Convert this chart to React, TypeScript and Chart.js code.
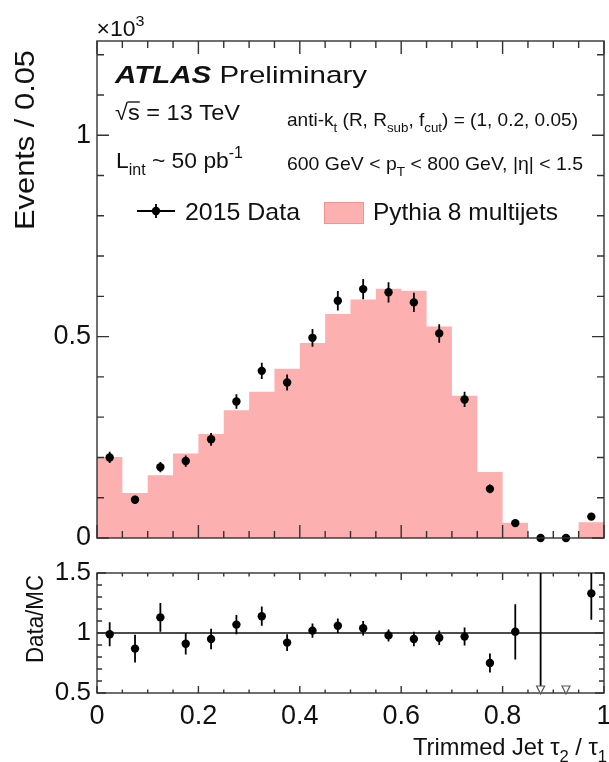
import React, { useEffect, useRef } from 'react';
import { Chart, registerables } from 'chart.js';

Chart.register(...registerables);

// ---------------- data ----------------
const binCenters = [0.025, 0.075, 0.125, 0.175, 0.225, 0.275, 0.325, 0.375, 0.425, 0.475, 0.525, 0.575, 0.625, 0.675, 0.725, 0.775, 0.825, 0.875, 0.925, 0.975];
const binEdges = [0, 0.05, 0.1, 0.15, 0.2, 0.25, 0.3, 0.35, 0.4, 0.45, 0.5, 0.55, 0.6, 0.65, 0.7, 0.75, 0.8, 0.85, 0.9, 0.95, 1.0];
// Pythia 8 multijets (x10^3 events / 0.05)
const mcValues = [0.201, 0.112, 0.156, 0.210, 0.258, 0.317, 0.363, 0.420, 0.484, 0.556, 0.592, 0.619, 0.614, 0.525, 0.353, 0.164, 0.038, 0.0005, 0, 0.039];
// 2015 Data
const dataValues = [0.200, 0.095, 0.176, 0.191, 0.245, 0.339, 0.415, 0.386, 0.497, 0.589, 0.618, 0.610, 0.585, 0.508, 0.344, 0.122, 0.037, 0, 0, 0.053];
const dataErrors = [0.014, 0.010, 0.013, 0.014, 0.016, 0.018, 0.020, 0.020, 0.022, 0.024, 0.025, 0.025, 0.024, 0.023, 0.019, 0.011, 0.006, 0, 0, 0.007];
// Data/MC ratio
const ratioValues = [0.99, 0.87, 1.13, 0.91, 0.95, 1.07, 1.14, 0.92, 1.02, 1.06, 1.04, 0.98, 0.95, 0.96, 0.97, 0.75, 1.01, 0, 0, 1.33];
const ratioErrors = [0.10, 0.115, 0.12, 0.09, 0.085, 0.08, 0.08, 0.07, 0.06, 0.06, 0.06, 0.05, 0.06, 0.06, 0.075, 0.08, 0.23, 2.0, 0, 0.22];
const ratioReference = 1;

// tick labels
const xTickLabels = [0, 0.2, 0.4, 0.6, 0.8, 1];
const xMinorStep = 0.05;
const mainYTickLabels = [0, 0.5, 1];
const mainYMinorStep = 0.1;
const ratioYTickLabels = [0.5, 1, 1.5];
const ratioYMinorStep = 0.1;

const X_MIN = 0, X_MAX = 1;
const MAIN_Y_MAX = 1.234;
const RATIO_Y_MIN = 0.5, RATIO_Y_MAX = 1.5;

// ---------------- style ----------------
const FONT = "'Liberation Sans', Arial, Helvetica, sans-serif";
const PINK = '#fcb0b0';
const FRAME = '#333333';
const TEXT = '#111111';

type Seg = { t: string; k?: number; dy?: number; style?: string; over?: boolean };
const SUB = { k: 0.7, dy: 0.3 };
const SUP = { k: 0.7, dy: -0.45 };

function drawRich(ctx: CanvasRenderingContext2D, segs: Seg[], x: number, y: number, size: number, targetW?: number, rot?: number) {
  ctx.save();
  ctx.translate(x, y);
  if (rot) ctx.rotate(rot);
  const fontOf = (s: Seg) => `${s.style ? s.style + ' ' : ''}${size * (s.k || 1)}px ${FONT}`;
  let total = 0;
  const widths = segs.map((s) => {
    ctx.font = fontOf(s);
    const w = ctx.measureText(s.t).width;
    total += w;
    return w;
  });
  const sx = targetW ? targetW / total : 1;
  ctx.scale(sx, 1);
  ctx.fillStyle = TEXT;
  ctx.strokeStyle = TEXT;
  ctx.textBaseline = 'alphabetic';
  ctx.textAlign = 'left';
  let cx = 0;
  segs.forEach((s, i) => {
    ctx.font = fontOf(s);
    ctx.fillText(s.t, cx, (s.dy || 0) * size);
    if (s.over) {
      ctx.lineWidth = size * 0.06;
      ctx.beginPath();
      ctx.moveTo(cx - size * 0.02, -size * 0.80);
      ctx.lineTo(cx + widths[i], -size * 0.80);
      ctx.stroke();
    }
    cx += widths[i];
  });
  ctx.restore();
}

type TickCfg = { xMaj: number; xMin: number; yMaj: number; yMin: number; yMajor: number[]; yStep: number; lw: number };

function framePlugin(id: string, cfg: TickCfg) {
  return {
    id,
    afterDatasetsDraw(chart: any) {
      const { ctx, chartArea: a, scales } = chart;
      const xs = scales.x, ys = scales.y;
      ctx.save();
      ctx.strokeStyle = FRAME;
      ctx.lineWidth = cfg.lw;
      ctx.beginPath();
      const nX = Math.round((X_MAX - X_MIN) / xMinorStep);
      for (let i = 0; i <= nX; i++) {
        const v = X_MIN + i * xMinorStep;
        const major = xTickLabels.some((t) => Math.abs(t - v) < 1e-6);
        const len = major ? cfg.xMaj : cfg.xMin;
        const px = xs.getPixelForValue(v);
        ctx.moveTo(px, a.bottom);
        ctx.lineTo(px, a.bottom - len);
        ctx.moveTo(px, a.top);
        ctx.lineTo(px, a.top + len);
      }
      const yMinV = ys.min, yMaxV = ys.max;
      const nY = Math.floor((yMaxV - yMinV) / cfg.yStep + 1e-6);
      for (let i = 0; i <= nY; i++) {
        const v = yMinV + i * cfg.yStep;
        const major = cfg.yMajor.some((t) => Math.abs(t - v) < 1e-6);
        const len = major ? cfg.yMaj : cfg.yMin;
        const py = ys.getPixelForValue(v);
        ctx.moveTo(a.left, py);
        ctx.lineTo(a.left + len, py);
        ctx.moveTo(a.right, py);
        ctx.lineTo(a.right - len, py);
      }
      ctx.stroke();
      ctx.strokeRect(a.left, a.top, a.right - a.left, a.bottom - a.top);
      ctx.restore();
    },
  };
}

function errorBarPlugin(id: string, values: number[], errors: number[], clip: boolean, yFloor?: number) {
  return {
    id,
    afterDatasetsDraw(chart: any) {
      const { ctx, chartArea: a, scales } = chart;
      ctx.save();
      if (clip) {
        ctx.beginPath();
        ctx.rect(a.left, a.top, a.right - a.left, a.bottom - a.top);
        ctx.clip();
      }
      ctx.strokeStyle = '#000';
      ctx.lineWidth = 1.8;
      ctx.beginPath();
      binCenters.forEach((xv, i) => {
        const e = errors[i];
        if (!e) return;
        const px = scales.x.getPixelForValue(xv);
        const y1 = scales.y.getPixelForValue(values[i] - e);
        const y2 = scales.y.getPixelForValue(values[i] + e);
        ctx.moveTo(px, y1);
        ctx.lineTo(px, y2);
      });
      ctx.stroke();
      ctx.restore();
      if (yFloor !== undefined) {
        ctx.save();
        ctx.strokeStyle = '#555';
        ctx.fillStyle = '#fff';
        ctx.lineWidth = 1.2;
        binCenters.forEach((xv, i) => {
          if (values[i] >= yFloor) return;
          const px = scales.x.getPixelForValue(xv);
          const pb = scales.y.getPixelForValue(yFloor);
          ctx.beginPath();
          ctx.moveTo(px - 4, pb - 7);
          ctx.lineTo(px + 4, pb - 7);
          ctx.lineTo(px, pb + 1);
          ctx.closePath();
          ctx.fill();
          ctx.stroke();
        });
        ctx.restore();
      }
    },
  };
}

const mainTextPlugin = {
  id: 'mainText',
  afterDraw(chart: any) {
    const ctx: CanvasRenderingContext2D = chart.ctx;
    drawRich(ctx, [{ t: '×10' }, { t: '3', ...SUP }], 96.5, 36, 22, 48);
    drawRich(ctx, [{ t: 'ATLAS', style: 'italic bold' }, { t: ' Preliminary' }], 115, 83, 24.5, 252);
    drawRich(ctx, [{ t: '√' }, { t: 's', over: true }, { t: ' = 13 TeV' }], 115, 120, 22.5, 125);
    drawRich(ctx, [{ t: 'L' }, { t: 'int', ...SUB }, { t: ' ~ 50 pb' }, { t: '-1', ...SUP }], 116, 168, 22.5, 127);
    drawRich(ctx, [{ t: 'anti-k' }, { t: 't', ...SUB }, { t: ' (R, R' }, { t: 'sub', ...SUB }, { t: ', f' }, { t: 'cut', ...SUB }, { t: ') = (1, 0.2, 0.05)' }], 287, 126, 18.5, 291);
    drawRich(ctx, [{ t: '600 GeV < p' }, { t: 'T', ...SUB }, { t: ' < 800 GeV, |η| < 1.5' }], 287, 170, 18.5, 296);
    // legend
    ctx.save();
    ctx.strokeStyle = '#000';
    ctx.lineWidth = 1.8;
    ctx.beginPath();
    ctx.moveTo(137, 211);
    ctx.lineTo(175, 211);
    ctx.moveTo(156, 204);
    ctx.lineTo(156, 218);
    ctx.stroke();
    ctx.fillStyle = '#000';
    ctx.beginPath();
    ctx.arc(156, 211, 4.2, 0, Math.PI * 2);
    ctx.fill();
    ctx.fillStyle = PINK;
    ctx.fillRect(324, 202, 40, 22);
    ctx.strokeStyle = 'rgba(235,130,130,0.6)';
    ctx.lineWidth = 1;
    ctx.strokeRect(324.5, 202.5, 39, 21);
    ctx.restore();
    drawRich(ctx, [{ t: '2015 Data' }], 185, 220, 24, 115);
    drawRich(ctx, [{ t: 'Pythia 8 multijets' }], 373, 220, 24, 185);
    drawRich(ctx, [{ t: 'Events / 0.05' }], 33.5, 230, 28, 180, -Math.PI / 2);
  },
};

const ratioTextPlugin = {
  id: 'ratioText',
  afterDraw(chart: any) {
    const ctx: CanvasRenderingContext2D = chart.ctx;
    drawRich(ctx, [{ t: 'Trimmed Jet τ' }, { t: '2', ...SUB }, { t: ' / τ' }, { t: '1', ...SUB }], 413, 215, 24, 194);
    drawRich(ctx, [{ t: 'Data/MC' }], 43, 123, 23, 88, -Math.PI / 2);
  },
};

const tickFont = { family: FONT, size: 27 };

export default function App() {
  const mainRef = useRef<HTMLCanvasElement | null>(null);
  const ratioRef = useRef<HTMLCanvasElement | null>(null);

  useEffect(() => {
    const mainChart = new Chart(mainRef.current as HTMLCanvasElement, {
      type: 'scatter',
      data: {
        datasets: [
          {
            type: 'line',
            label: 'Pythia 8 multijets',
            data: binEdges.map((e, i) => ({ x: e, y: mcValues[Math.min(i, mcValues.length - 1)] })),
            stepped: 'before',
            fill: 'origin',
            backgroundColor: PINK,
            borderColor: 'rgba(0,0,0,0)',
            borderWidth: 0,
            pointRadius: 0,
            order: 2,
          } as any,
          {
            type: 'scatter',
            label: '2015 Data',
            data: binCenters.map((x, i) => ({ x, y: dataValues[i] })),
            pointRadius: 4.2,
            backgroundColor: '#000',
            borderWidth: 0,
            clip: false,
            order: 1,
          } as any,
        ],
      },
      options: {
        animation: false,
        responsive: false,
        devicePixelRatio: 1,
        layout: { padding: { left: 0, right: 5, top: 41, bottom: 22 } },
        plugins: { legend: { display: false }, tooltip: { enabled: false } },
        scales: {
          x: { type: 'linear', min: X_MIN, max: X_MAX, display: false },
          y: {
            type: 'linear',
            min: 0,
            max: MAIN_Y_MAX,
            afterBuildTicks: (s: any) => { s.ticks = mainYTickLabels.map((v) => ({ value: v })); },
            afterFit: (s: any) => { s.width = 97; s.paddingTop = 0; s.paddingBottom = 0; },
            grid: { display: false, drawTicks: false },
            border: { display: false },
            ticks: { font: tickFont, color: TEXT, padding: 6, callback: (v: any) => String(v) },
          },
        },
      } as any,
      plugins: [
        framePlugin('mainFrame', { xMaj: 13, xMin: 7, yMaj: 12, yMin: 7, yMajor: mainYTickLabels, yStep: mainYMinorStep, lw: 1.4 }),
        errorBarPlugin('mainErr', dataValues, dataErrors, false),
        mainTextPlugin,
      ],
    });

    const ratioChart = new Chart(ratioRef.current as HTMLCanvasElement, {
      type: 'scatter',
      data: {
        datasets: [
          {
            type: 'line',
            label: 'unity',
            data: [{ x: X_MIN, y: ratioReference }, { x: X_MAX, y: ratioReference }],
            borderColor: '#111',
            borderWidth: 1.4,
            pointRadius: 0,
            fill: false,
            order: 2,
          } as any,
          {
            type: 'scatter',
            label: 'Data/MC',
            data: binCenters.map((x, i) => ({ x, y: ratioValues[i] })),
            pointRadius: 4.2,
            backgroundColor: '#000',
            borderWidth: 0,
            order: 1,
          } as any,
        ],
      },
      options: {
        animation: false,
        responsive: false,
        devicePixelRatio: 1,
        layout: { padding: { left: 0, right: 5, top: 33, bottom: 0 } },
        plugins: { legend: { display: false }, tooltip: { enabled: false } },
        scales: {
          x: {
            type: 'linear',
            min: X_MIN,
            max: X_MAX,
            afterBuildTicks: (s: any) => { s.ticks = xTickLabels.map((v) => ({ value: v })); },
            afterFit: (s: any) => { s.height = 69; s.paddingLeft = 0; s.paddingRight = 0; },
            grid: { display: false, drawTicks: false },
            border: { display: false },
            ticks: { font: tickFont, color: TEXT, padding: 7, autoSkip: false, maxRotation: 0, callback: (v: any) => String(v) },
          },
          y: {
            type: 'linear',
            min: RATIO_Y_MIN,
            max: RATIO_Y_MAX,
            afterBuildTicks: (s: any) => { s.ticks = ratioYTickLabels.map((v) => ({ value: v })); },
            afterFit: (s: any) => { s.width = 97; s.paddingTop = 0; s.paddingBottom = 0; },
            grid: { display: false, drawTicks: false },
            border: { display: false },
            ticks: { font: { family: FONT, size: 26 }, color: TEXT, padding: 6, callback: (v: any) => String(v) },
          },
        },
      } as any,
      plugins: [
        framePlugin('ratioFrame', { xMaj: 7, xMin: 3.5, yMaj: 9, yMin: 5, yMajor: ratioYTickLabels, yStep: ratioYMinorStep, lw: 1.4 }),
        errorBarPlugin('ratioErr', ratioValues, ratioErrors, true, RATIO_Y_MIN),
        ratioTextPlugin,
      ],
    });

    return () => {
      mainChart.destroy();
      ratioChart.destroy();
    };
  }, []);

  return (
    <div style={{ position: 'absolute', left: 0, top: 0, width: 609, height: 762, background: '#fff', overflow: 'hidden' }}>
      <canvas ref={mainRef} width={609} height={560} style={{ position: 'absolute', left: 0, top: 0, display: 'block' }} />
      <canvas ref={ratioRef} width={609} height={222} style={{ position: 'absolute', left: 0, top: 540, display: 'block' }} />
    </div>
  );
}
